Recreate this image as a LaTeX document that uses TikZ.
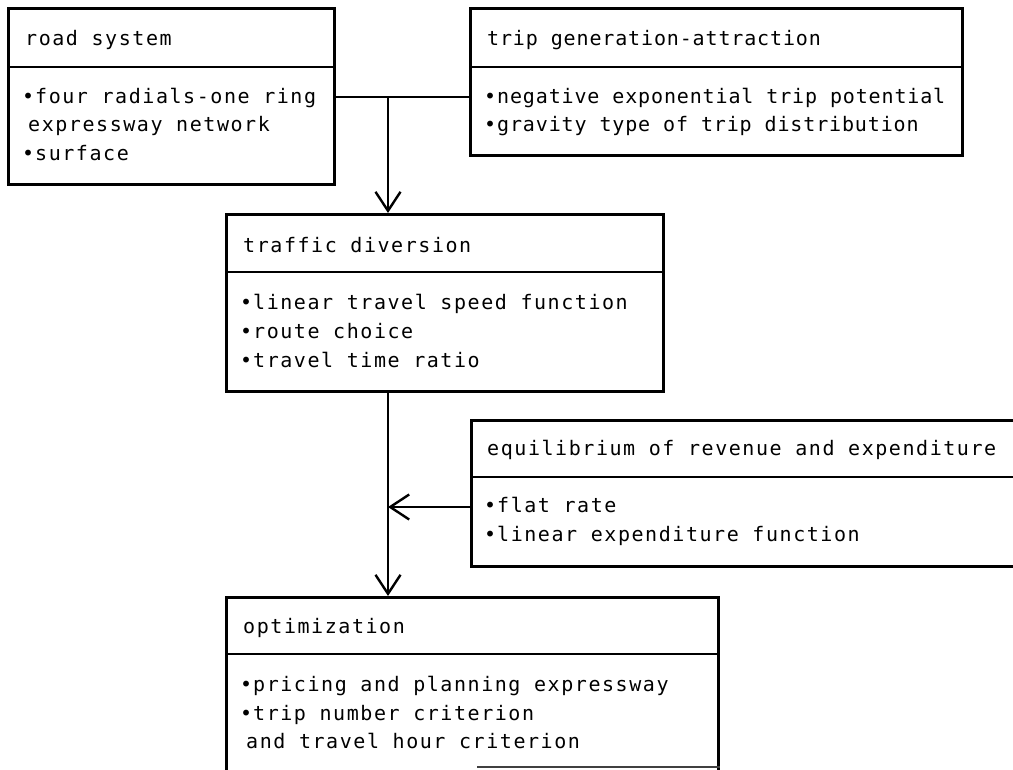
\documentclass[tikz,border=0pt]{standalone}
\usepackage{fontspec}
\newfontfamily\diagfont[LetterSpace=7.8]{DejaVu Sans Mono}
\newfontfamily\diagfontnarrow[LetterSpace=4.3]{DejaVu Sans Mono}
\usetikzlibrary{arrows.meta}

% fixed line box so every text line sits on a regular grid
\newcommand\lnstrut{\rule[-5pt]{0pt}{20pt}}
% bullet in a narrow cell
\newcommand\bul{\makebox[10pt][l]{\kern-3pt•}}

\tikzset{
  panel/.style={draw, line width=2.8pt, anchor=north west, inner sep=0pt},
  divider/.style={line width=2.6pt},
  txt/.style={anchor=west, inner sep=0pt, align=left,
              font=\diagfont\fontsize{20pt}{28.7pt}\selectfont},
  txtnarrow/.style={txt, font=\diagfontnarrow\fontsize{20pt}{28.7pt}\selectfont},
  link/.style={line width=2.4pt},
  flow/.style={link, -{Straight Barb[length=19pt,width=25pt]}}
}

\begin{document}
\begin{tikzpicture}[x=1pt,y=-1pt]
\useasboundingbox (0,0) rectangle (1013,770);
\clip (0,0) rectangle (1013,770);

% ---- boxes ----
\node[panel, minimum width=326pt, minimum height=176pt] (road) at (7,7) {};
\node[panel, minimum width=492pt, minimum height=147pt] (trip) at (469,7) {};
\node[panel, minimum width=437pt, minimum height=177pt] (traffic) at (225,213) {};
\node[panel, minimum width=580pt, minimum height=146pt] (equil) at (470,419) {};
\node[panel, minimum width=492pt, minimum height=200pt] (opt) at (225,596) {};

% header rules
\draw[divider] (road.west |- 0,67) -- (road.east |- 0,67);
\draw[divider] (trip.west |- 0,67) -- (trip.east |- 0,67);
\draw[divider] (traffic.west |- 0,272) -- (traffic.east |- 0,272);
\draw[divider] (equil.west |- 0,477) -- (equil.east |- 0,477);
\draw[divider] (opt.west |- 0,654) -- (opt.east |- 0,654);
% lower edge of the optimization box (only partly printed)
\draw[line width=1.8pt, black!75] (477,767) -- (opt.east |- 0,767);

% ---- texts ----
\node[txt] (roadhd) at (25,40) {\lnstrut road system};
\node[txt] (roadbd) at (25,126.7) {\lnstrut\bul four radials-one ring\\
  \lnstrut\hspace{3pt}expressway network\\
  \lnstrut\bul surface};

\node[txtnarrow] (triphd) at (487,40) {\lnstrut trip generation-attraction};
\node[txtnarrow] (tripbd) at (487,112.5) {\lnstrut\bul negative exponential trip potential\\
  \lnstrut\bul gravity type of trip distribution};

\node[txt] (traffichd) at (243,247) {\lnstrut traffic diversion};
\node[txt] (trafficbd) at (243,333.3) {\lnstrut\bul linear travel speed function\\
  \lnstrut\bul route choice\\
  \lnstrut\bul travel time ratio};

\node[txt] (equilhd) at (487,450) {\lnstrut equilibrium of revenue and expenditure};
\node[txt] (equilbd) at (487,521.5) {\lnstrut\bul flat rate\\
  \lnstrut\bul linear expenditure function};

\node[txt] (opthd) at (243,628) {\lnstrut optimization};
\node[txt] (optbd) at (243,715) {\lnstrut\bul pricing and planning expressway\\
  \lnstrut\bul trip number criterion\\
  \lnstrut\hspace{3pt}and travel hour criterion};

% ---- connectors ----
\coordinate (join) at (388,97);
\coordinate (merge) at (388,507);
\draw[link] (road.east |- join) -- (trip.west |- join);
\draw[flow] (join) -- (join |- traffic.north);
\draw[flow] (join |- traffic.south) -- (join |- opt.north);
\draw[flow] (equil.west |- merge) -- (merge);
\end{tikzpicture}
\end{document}
